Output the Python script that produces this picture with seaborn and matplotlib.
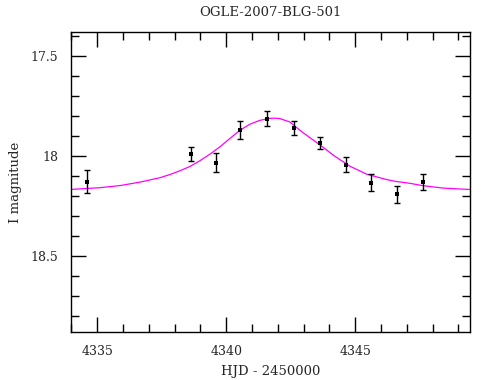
import numpy as np
import pandas as pd
import matplotlib
matplotlib.use('Agg')
import matplotlib.pyplot as plt
import seaborn as sns
from matplotlib.ticker import MultipleLocator

# photometry points
hjd = [4334.59, 4338.63, 4339.60, 4340.52, 4341.59, 4342.64, 4343.62, 4344.65, 4345.61, 4346.63, 4347.64]
mag = [18.127, 17.987, 18.032, 17.870, 17.813, 17.858, 17.932, 18.042, 18.132, 18.192, 18.128]
err = [0.060, 0.035, 0.048, 0.045, 0.037, 0.035, 0.030, 0.037, 0.045, 0.043, 0.040]

# model curve
model_t = [4333.94, 4335.10, 4335.90, 4336.66, 4337.43, 4337.82, 4338.21, 4338.59, 4338.98, 4339.37,
           4339.76, 4340.14, 4340.53, 4340.92, 4341.30, 4341.69, 4341.89, 4342.08, 4342.47, 4342.86,
           4343.24, 4343.63, 4344.15, 4344.79, 4345.44, 4346.21, 4346.60, 4347.12, 4347.64, 4348.41,
           4349.45]
model_mag = [18.167, 18.158, 18.147, 18.130, 18.108, 18.092, 18.073, 18.052, 18.023, 17.990,
             17.953, 17.912, 17.871, 17.840, 17.821, 17.811, 17.810, 17.812, 17.829, 17.871,
             17.907, 17.943, 17.995, 18.050, 18.090, 18.117, 18.127, 18.136, 18.148, 18.160,
             18.167]

pts = pd.DataFrame({'hjd': hjd, 'mag': mag, 'err': err})
model = pd.DataFrame({'t': model_t, 'mag': model_mag})

sns.set_style('ticks')
plt.rcParams['font.family'] = ['DejaVu Serif']

fig = plt.figure(figsize=(4.9, 3.8), dpi=100)
ax = fig.add_axes([0.1443, 0.1255, 0.8147, 0.7895])

sns.lineplot(data=model, x='t', y='mag', color='#ff00ff', lw=0.9, sort=False, ax=ax)
ax.errorbar(pts['hjd'], pts['mag'], yerr=pts['err'], fmt='none', ecolor='black',
            elinewidth=1.0, capsize=2.2, capthick=1.0)
sns.scatterplot(data=pts, x='hjd', y='mag', marker='s', s=10, color='black',
                edgecolor='black', linewidth=0, ax=ax, zorder=5)

ax.set_xlim(4333.97, 4349.45)
ax.set_ylim(18.882, 17.38)

ax.xaxis.set_major_locator(MultipleLocator(5))
ax.xaxis.set_minor_locator(MultipleLocator(1))
ax.yaxis.set_major_locator(MultipleLocator(0.5))
ax.yaxis.set_minor_locator(MultipleLocator(0.1))
ax.set_yticks([17.5, 18, 18.5])
ax.set_yticklabels(['17.5', '18', '18.5'])

ax.tick_params(which='both', direction='in', top=True, right=True, width=1.0,
               labelsize=9, pad=9, color='black')
ax.tick_params(which='major', length=11)
ax.tick_params(which='minor', length=5.5)
for s in ax.spines.values():
    s.set_linewidth(1.0)
    s.set_color('black')

ax.set_xlabel('HJD - 2450000', fontsize=9.5, labelpad=5)
ax.set_ylabel('I magnitude', fontsize=9.5, labelpad=6)
ax.set_title('OGLE-2007-BLG-501', fontsize=9.5, pad=12)

fig.savefig('out.png', dpi=100)
